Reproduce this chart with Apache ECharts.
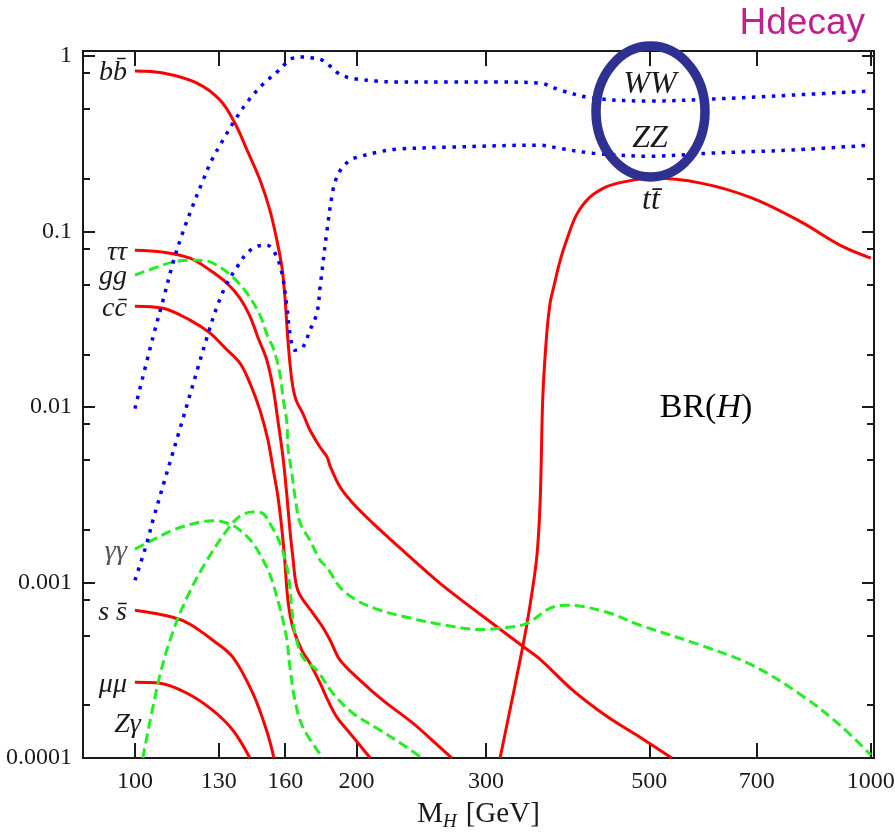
<!DOCTYPE html>
<html>
<head>
<meta charset="utf-8">
<title>BR(H)</title>
<script src="https://cdn.jsdelivr.net/npm/echarts@6.0.0/dist/echarts.min.js"></script>
<style>
  html, body { margin: 0; padding: 0; background: #fff; }
  #chart { width: 895px; height: 840px; }
</style>
</head>
<body>
<div id="chart"></div>
<script>
// branching ratios: [M_H (GeV), BR]
const BB = [[100, 0.822], [109.2, 0.801], [121.4, 0.702], [130.5, 0.562], [136.7, 0.416], [142, 0.292], [147.9, 0.197], [152.5, 0.133], [155.9, 0.0894], [158.4, 0.0627], [159.9, 0.0423], [161.4, 0.0241], [163.4, 0.0142], [165.5, 0.011], [169.1, 0.0092], [172.9, 0.0074], [178.5, 0.0059], [182.4, 0.0052], [184.2, 0.0046], [190, 0.0035], [197.8, 0.00283], [210.5, 0.00218], [229.3, 0.00157], [259.8, 0.00099], [313.5, 0.000542], [336.6, 0.000433], [355.4, 0.000365], [393.7, 0.000243], [437.7, 0.000173], [486.3, 0.000131], [536.5, 0.0001]]
const TAUTAU = [[100, 0.0784], [109.2, 0.0764], [118.8, 0.0706], [126.5, 0.0603], [133.4, 0.0508], [138.9, 0.0418], [143.3, 0.033], [146.9, 0.025], [151.1, 0.0185], [154, 0.013], [156.4, 0.0084], [158.9, 0.0052], [160.9, 0.0031], [162.4, 0.002], [163.9, 0.0014], [166.5, 0.0009], [174.5, 0.00067], [180, 0.000556], [184.2, 0.000469], [190, 0.000361], [202.3, 0.000277], [217.3, 0.000213], [238.6, 0.000158], [259.8, 0.000115], [269.6, 0.0001]]
const CC = [[100, 0.0376], [109.2, 0.0366], [118.8, 0.0313], [126.5, 0.0264], [132.6, 0.0217], [138.9, 0.0178], [143.3, 0.0137], [147.9, 0.0096], [151.6, 0.0065], [154, 0.0045], [156.4, 0.0031], [158.4, 0.002], [159.9, 0.0013], [161.4, 0.00079], [163.9, 0.000556], [168.6, 0.000411], [172.9, 0.000347], [178.5, 0.000267], [182.9, 0.000213], [188.1, 0.000171], [196.1, 0.000138], [208.8, 0.0001]]
const SS = [[100, 0.000695], [112.6, 0.000634], [118.8, 0.000578], [127.6, 0.000469], [135.9, 0.000375], [144.6, 0.000234], [151.1, 0.000142], [154.5, 0.0001]]
const MUMU = [[100, 0.00027], [108.1, 0.000267], [117.7, 0.000234], [127.6, 0.000187], [135.9, 0.000144], [143.3, 0.0001]]
const TT = [[313.5, 0.0001], [336.6, 0.000433], [344.4, 0.00075], [351.7, 0.00141], [355.4, 0.00295], [358.4, 0.0117], [362.9, 0.0267], [366.7, 0.0396], [369.9, 0.0464], [378.4, 0.0688], [386.4, 0.0906], [398.6, 0.1258], [415.3, 0.1573], [437.7, 0.1805], [460.3, 0.1915], [502, 0.2018], [587.7, 0.189], [690, 0.1552], [805, 0.1133], [907.8, 0.0838], [1000, 0.0706]]
const GG = [[100, 0.0565], [107.1, 0.0627], [112.6, 0.067], [118.8, 0.0688], [125.3, 0.068], [130.5, 0.0627], [135.9, 0.055], [142, 0.0446], [147.9, 0.0334], [151.6, 0.025], [154, 0.022], [157.4, 0.0156], [158.9, 0.0114], [160.9, 0.0081], [161.4, 0.0059], [163.4, 0.0042], [165, 0.0031], [167.6, 0.0022], [172.9, 0.00174], [178.5, 0.00134], [182.4, 0.00122], [190, 0.00094], [200.3, 0.00079], [215.4, 0.000695], [234.2, 0.000634], [259.8, 0.000578], [294.5, 0.00054], [320.2, 0.000555], [340.9, 0.000585], [366.7, 0.000714], [386.4, 0.000743], [437.7, 0.000677], [486.3, 0.000571], [587.7, 0.000439], [690, 0.000338], [805, 0.000228], [907.8, 0.000154], [1000, 0.000104]]
const GAGA = [[100, 0.00155], [103.8, 0.00168], [112.6, 0.00199], [122.6, 0.00221], [128.4, 0.00225], [134.6, 0.00215], [138.9, 0.00199], [144.6, 0.00168], [151.1, 0.00122], [154, 0.00099], [156.4, 0.00079], [158.9, 0.00061], [160.9, 0.00047], [162.4, 0.00033], [165, 0.000213], [169.1, 0.00015], [180, 0.0001]]
const ZGA = [[102.5, 0.0001], [107.5, 0.000267], [111.6, 0.000469], [117.7, 0.000824], [125.3, 0.00134], [133.4, 0.00199], [138.9, 0.00239], [144.6, 0.00252], [148.8, 0.00249], [152.5, 0.00218], [157.4, 0.00168], [160.9, 0.00122], [162.4, 0.00094], [163.4, 0.0007], [165, 0.000514], [169.1, 0.000375], [176.7, 0.000316], [185.8, 0.000234], [197.8, 0.00018], [215.4, 0.000144], [234.2, 0.000115], [245.5, 0.0001]]
const WW = [[100, 0.0098], [105.8, 0.025], [109.2, 0.0407], [112.6, 0.0661], [115.8, 0.0955], [119.5, 0.136], [123.3, 0.189], [127.2, 0.256], [131.7, 0.332], [136.7, 0.432], [142.5, 0.555], [149.3, 0.693], [155.9, 0.811], [159.9, 0.901], [163.9, 0.975], [169.1, 0.988], [174.5, 0.975], [179.6, 0.95], [184.2, 0.878], [188.7, 0.801], [194.1, 0.76], [200.3, 0.74], [213, 0.721], [225.6, 0.712], [268, 0.712], [313, 0.712], [355, 0.702], [378, 0.641], [419, 0.577], [501, 0.555], [604, 0.569], [783, 0.6], [1000, 0.633]]
const ZZ = [[100, 0.00103], [103.8, 0.00168], [105.8, 0.00227], [115.1, 0.0075], [125.3, 0.025], [129.2, 0.0371], [133.4, 0.0508], [137.6, 0.0627], [142, 0.0754], [146.9, 0.0827], [151.1, 0.0837], [155, 0.0754], [158.4, 0.058], [160.9, 0.0371], [162.4, 0.0264], [165, 0.0211], [169.1, 0.022], [172.9, 0.0274], [176.7, 0.0343], [178.5, 0.0483], [182.4, 0.102], [185.8, 0.172], [188.1, 0.2045], [191.1, 0.23], [196.1, 0.2557], [200.9, 0.266], [213.9, 0.284], [227, 0.295], [268, 0.303], [355, 0.311], [378, 0.298], [419, 0.28], [501, 0.269], [604, 0.28], [783, 0.292], [1000, 0.311]]

const X_TICKS = [100, 130, 160, 200, 300, 500, 700, 1000]
const Y_MAJOR = [0.0001, 0.001, 0.01, 0.1, 1]
const Y_MINOR = [0.0002, 0.0005, 0.0008, 0.002, 0.005, 0.008, 0.02, 0.05, 0.08, 0.2, 0.5, 0.8]

const SERIF = 'Liberation Serif'
const INK = '#1a1a1a'
const RED = '#ff0000'
const GREEN = '#22ee22'
const BLUE = '#0000ff'

const chart = echarts.init(document.getElementById('chart'))

function xAxis(position, withLabels) {
  return {
    type: 'log',
    min: 85,
    max: 1010,
    position,
    axisLine: { show: true, onZero: false, lineStyle: { color: INK, width: 2 } },
    axisTick: { show: true, inside: true, length: 15, customValues: X_TICKS, lineStyle: { color: INK, width: 2 } },
    axisLabel: {
      show: withLabels,
      customValues: X_TICKS,
      formatter: v => String(v),
      fontFamily: SERIF,
      fontSize: 24,
      color: INK,
      margin: 12
    },
    splitLine: { show: false },
    minorTick: { show: false },
    name: withLabels ? '{m|M}{s|H}{m|[GeV]}' : '',
    nameLocation: 'middle',
    nameGap: 40,
    nameTextStyle: {
      rich: {
        m: { fontFamily: SERIF, fontSize: 29, color: INK },
        s: { fontFamily: SERIF, fontStyle: 'italic', fontSize: 19, color: INK, padding: [14, 9, 0, 0] }
      }
    }
  }
}

function yAxis(position, ticks, length, withLabels) {
  return {
    type: 'log',
    min: 0.0001,
    max: 1.07,
    position,
    axisLine: { show: true, onZero: false, lineStyle: { color: INK, width: 2 } },
    axisTick: { show: true, inside: true, length, customValues: ticks, lineStyle: { color: INK, width: 2 } },
    axisLabel: {
      show: withLabels,
      customValues: ticks,
      formatter: v => String(v),
      fontFamily: SERIF,
      fontSize: 24,
      color: INK,
      margin: 11
    },
    splitLine: { show: false },
    minorTick: { show: false }
  }
}

function curve(name, data, color, dash, width) {
  return {
    name,
    type: 'line',
    data,
    showSymbol: false,
    smooth: 0.35,
    silent: true,
    lineStyle: { color, width, type: dash, cap: 'butt' }
  }
}

const solid = (name, data) => curve(name, data, RED, 'solid', 3)
const dashed = (name, data) => curve(name, data, GREEN, [10, 5], 3)
const dotted = (name, data) => curve(name, data, BLUE, [3.5, 6.5], 3.5)

chart.setOption({
  animation: false,
  backgroundColor: '#fff',
  grid: { left: 83, right: 21, top: 51, bottom: 82, outerBoundsMode: 'none' },
  xAxis: [xAxis('bottom', true), xAxis('top', false)],
  yAxis: [
    yAxis('left', Y_MAJOR, 12, true),
    yAxis('left', Y_MINOR, 7, false),
    yAxis('right', Y_MAJOR, 12, false),
    yAxis('right', Y_MINOR, 7, false)
  ],
  series: [
    solid('bb', BB),
    solid('tautau', TAUTAU),
    solid('cc', CC),
    solid('ss', SS),
    solid('mumu', MUMU),
    solid('tt', TT),
    dashed('gg', GG),
    dashed('gaga', GAGA),
    dashed('Zga', ZGA),
    dotted('WW', WW),
    dotted('ZZ', ZZ)
  ]
})

// curve names sit just left of where each curve starts
const TAGS = [
  { text: 'bb\u0304', data: BB },
  { text: '\u03c4\u03c4', data: TAUTAU },
  { text: 'gg', data: GG },
  { text: 'cc\u0304', data: CC },
  { text: '\u03b3\u03b3', data: GAGA, color: '#555' },
  { text: 's s\u0304', data: SS },
  { text: '\u03bc\u03bc', data: MUMU },
  { text: 'Z\u03b3', data: ZGA, dx: 6, dy: -35 }
]

const graphic = TAGS.map(t => {
  const p = chart.convertToPixel({ xAxisIndex: 0, yAxisIndex: 0 }, t.data[0])
  return {
    type: 'text',
    silent: true,
    style: {
      text: t.text,
      x: p[0] - 8 + (t.dx || 0),
      y: p[1] + 2 + (t.dy || 0),
      font: 'italic 28px "' + SERIF + '"',
      fill: t.color || INK,
      textAlign: 'right',
      textVerticalAlign: 'middle'
    }
  }
})

graphic.push(
  {
    type: 'ellipse',
    silent: true,
    z: 100,
    shape: { cx: 650.5, cy: 111.5, rx: 54.5, ry: 65.5 },
    style: { fill: 'none', stroke: '#2e3192', lineWidth: 9.5 }
  },
  { type: 'text', silent: true, style: { text: 'WW', x: 650, y: 85, font: 'italic 32px "' + SERIF + '"', fill: INK, textAlign: 'center', textVerticalAlign: 'middle' } },
  { type: 'text', silent: true, style: { text: 'ZZ', x: 650, y: 139, font: 'italic 32px "' + SERIF + '"', fill: INK, textAlign: 'center', textVerticalAlign: 'middle' } },
  { type: 'text', silent: true, style: { text: 'tt\u0304', x: 651, y: 201, font: 'italic 32px "' + SERIF + '"', fill: INK, textAlign: 'center', textVerticalAlign: 'middle' } },
  {
    type: 'text',
    silent: true,
    style: {
      text: '{a|BR(}{b|H}{a|)}',
      x: 706,
      y: 408,
      textAlign: 'center',
      textVerticalAlign: 'middle',
      rich: {
        a: { fontFamily: SERIF, fontSize: 34, color: INK },
        b: { fontFamily: SERIF, fontStyle: 'italic', fontSize: 34, color: INK }
      }
    }
  },
  {
    type: 'text',
    silent: true,
    style: { text: 'Hdecay', x: 865, y: 24, font: '37px "Liberation Sans"', fill: '#c0218e', textAlign: 'right', textVerticalAlign: 'middle' }
  }
)

chart.setOption({ graphic })
</script>
</body>
</html>
